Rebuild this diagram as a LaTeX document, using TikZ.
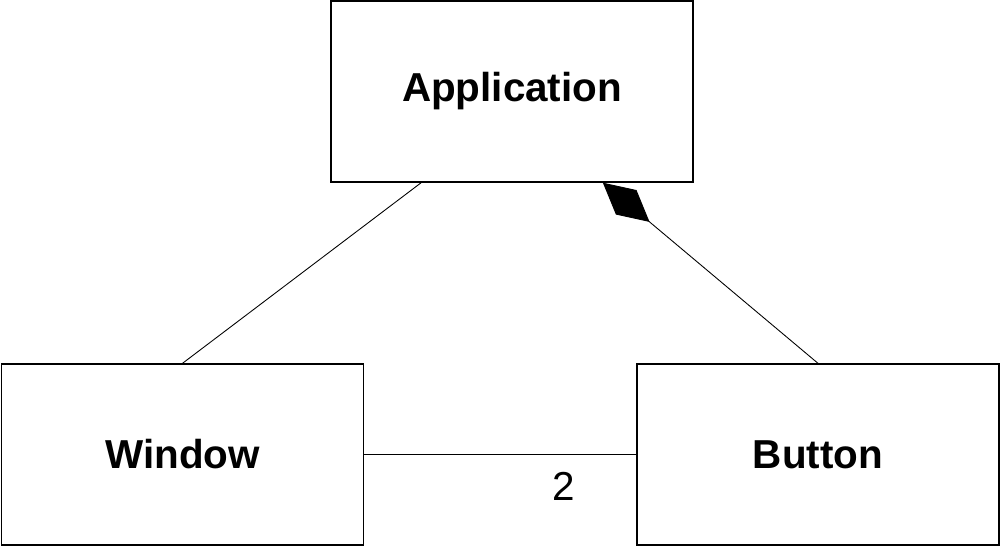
\documentclass[tikz,border=0pt]{standalone}
\usepackage{fontspec}
\setmainfont{Liberation Sans}
\usetikzlibrary{arrows.meta, calc}
\tikzset{
  cls/.style={draw=black, fill=white, line width=0.8pt, minimum width=7.24cm, minimum height=3.62cm,
              inner sep=0pt, font=\fontsize{23}{27}\selectfont\bfseries},
  link/.style={draw=black, line width=0.5pt},
  comp/.style={link, {Diamond[length=1.22cm, width=0.64cm, fill=black]}-},
  mult/.style={font=\fontsize{23}{27}\selectfont, inner sep=0pt},
}

\begin{document}
\begin{tikzpicture}[x=0.02cm, y=-0.02cm]
\useasboundingbox (0,0) rectangle (1000,545);

% ---------------- classes ----------------
\node[cls] (app) at (512,91.5) {Application};
\node[cls] (win) at (182.5,454.5) {Window};
\node[cls] (btn) at (818,454.5) {Button};

% ---------------- associations ----------------
\coordinate (appl) at ($(app.south west)!0.25!(app.south east)$);
\coordinate (appr) at ($(app.south west)!0.75!(app.south east)$);
\draw[link] (win.north) -- (appl);
\draw[comp] (appr) -- (btn.north);
\draw[link] (win.east) -- (btn.west)
  node[mult, pos=0.733, yshift=-0.64cm] (two) {2};

\end{tikzpicture}
\end{document}
